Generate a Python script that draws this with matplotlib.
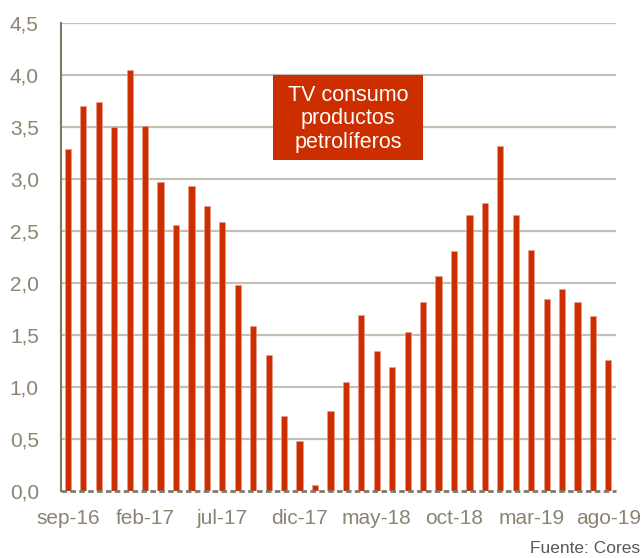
import matplotlib.pyplot as plt
from matplotlib.patches import Rectangle
import numpy as np

plt.rcParams['font.family'] = ['Liberation Sans', 'DejaVu Sans']

# monthly series sep-16 .. ago-19
months = ['sep-16', 'oct-16', 'nov-16', 'dic-16', 'ene-17', 'feb-17', 'mar-17', 'abr-17',
          'may-17', 'jun-17', 'jul-17', 'ago-17', 'sep-17', 'oct-17', 'nov-17', 'dic-17',
          'ene-18', 'feb-18', 'mar-18', 'abr-18', 'may-18', 'jun-18', 'jul-18', 'ago-18',
          'sep-18', 'oct-18', 'nov-18', 'dic-18', 'ene-19', 'feb-19', 'mar-19', 'abr-19',
          'may-19', 'jun-19', 'jul-19', 'ago-19']
tv = [3.29, 3.70, 3.74, 3.50, 4.05, 3.51, 2.97, 2.56, 2.93, 2.74, 2.59, 1.98,
      1.59, 1.31, 0.72, 0.48, 0.06, 0.77, 1.05, 1.69, 1.35, 1.19, 1.53, 1.82,
      2.07, 2.31, 2.65, 2.77, 3.32, 2.65, 2.32, 1.85, 1.94, 1.82, 1.68, 1.26]
yticks = [0, 0.5, 1.0, 1.5, 2.0, 2.5, 3.0, 3.5, 4.0, 4.5]

red = '#CC2E00'
grid_c = '#C4C0B3'
txt_c = '#8A8470'

fig = plt.figure(figsize=(6.44, 5.58), dpi=100)
ax = fig.add_axes([0.0947, 0.12, 0.862, 0.8388])

x = np.arange(len(months))
ax.bar(x, tv, width=0.4, color=red, edgecolor='#E8A090', linewidth=0.4, zorder=3)

ax.set_ylim(0, 4.5)
ax.set_xlim(-0.45, 35.5)
ax.set_yticks(yticks)
ax.set_yticklabels([f'{v:.1f}'.replace('.', ',') for v in yticks])
ax.set_xticks(x[::5])
ax.set_xticklabels(months[::5])
ax.tick_params(length=0, labelsize=15, colors=txt_c)
ax.tick_params(axis='x', pad=13)
ax.tick_params(axis='y', pad=16)

for v in yticks[1:]:
    ax.axhline(v, color=grid_c, lw=1.6, zorder=1)
for s in ['top', 'right', 'bottom']:
    ax.spines[s].set_visible(False)
ax.spines['left'].set_color('#7F7A68')
ax.spines['left'].set_linewidth(1.5)
ax.axhline(0, color='#7F7A68', lw=2, ls=(0, (2, 1.2)), zorder=4, clip_on=False)

# label box
ax.add_patch(Rectangle((0.382, 0.707), 0.27, 0.182, transform=ax.transAxes,
                       fc=red, ec='none', zorder=5))
ax.text(0.517, 0.795, 'TV consumo\nproductos\npetrolíferos', transform=ax.transAxes,
        ha='center', va='center', color='white', fontsize=15.5, linespacing=1.18, zorder=6)

fig.text(0.823, 0.003, 'Fuente: Cores', fontsize=12.5, color='#595959', ha='left', va='bottom')

fig.savefig('out.png', dpi=100)
